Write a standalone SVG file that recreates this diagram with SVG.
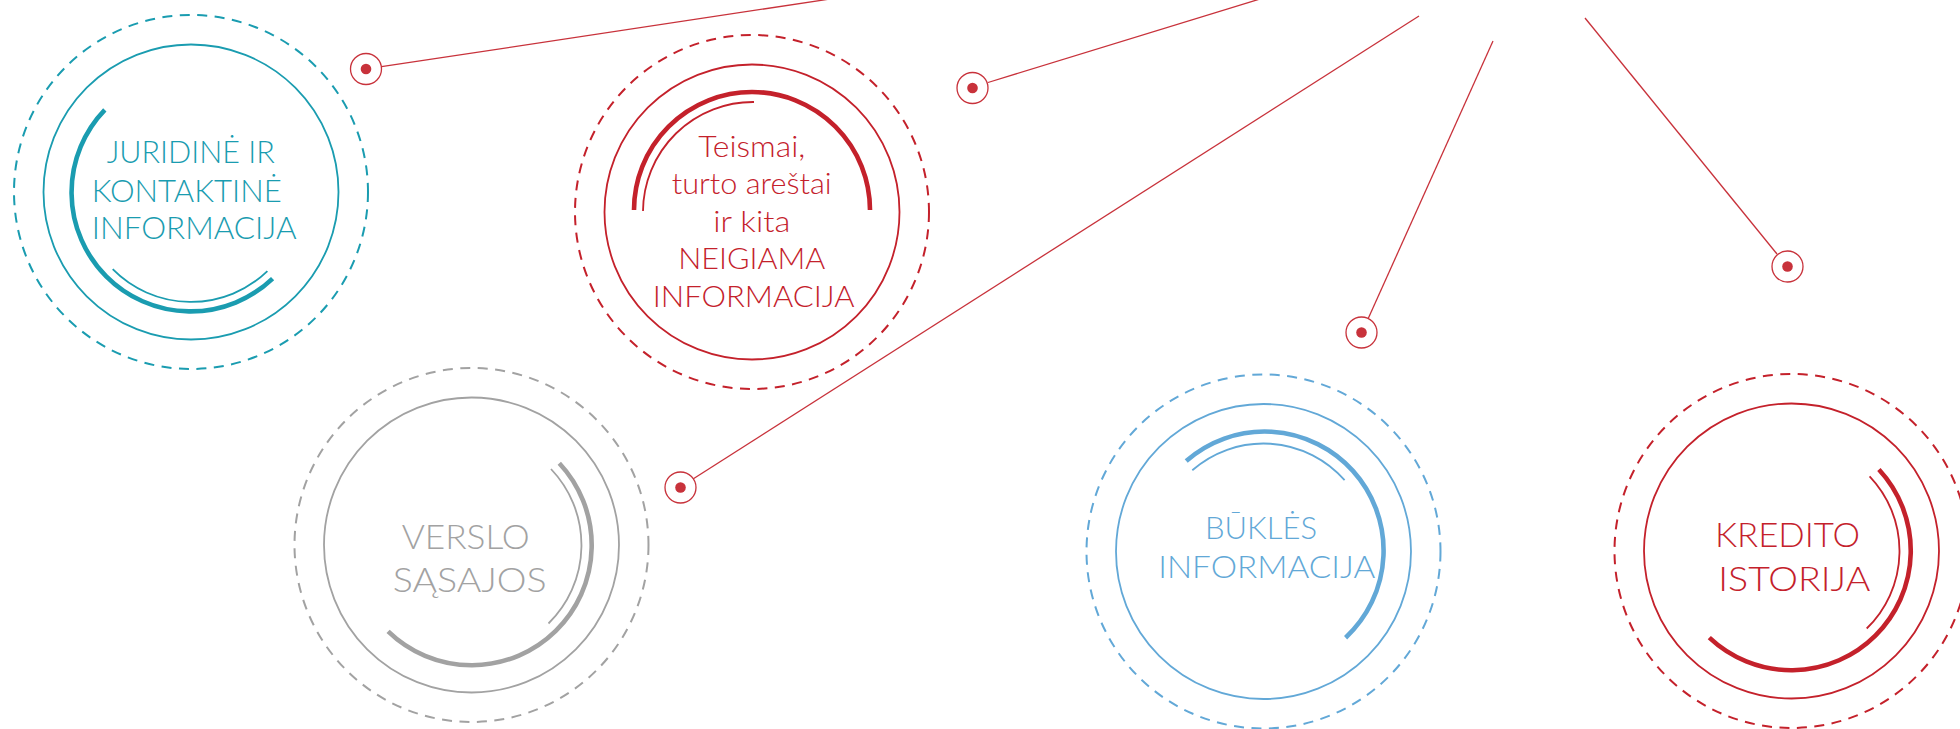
<svg xmlns="http://www.w3.org/2000/svg" xmlns:xlink="http://www.w3.org/1999/xlink" width="1960" height="729" viewBox="0 0 1960 729">
<style>
  .dash{fill:none;stroke-width:2;stroke-dasharray:10 7.5}
  .ring{fill:none;stroke-width:1.8}
  .thick{fill:none;stroke-width:4.6}
  .thin{fill:none;stroke-width:1.8}
  .lbl{font-family:Lato,"Open Sans","Liberation Sans",sans-serif;font-weight:300;font-size:32px}
  .teal{stroke:#1a9cb0}
  .tealt{fill:#1a9cb0}
  .red{stroke:#c4212b}
  .redt{fill:#c4212b}
  .gray{stroke:#a2a2a2}
  .grayt{fill:#a2a2a2}
  .blue{stroke:#62a8d7}
  .bluet{fill:#62a8d7}
  .conn{stroke:#c8323b;stroke-width:1.3;fill:none}
  .mk{fill:#fff;stroke:#c8323b;stroke-width:1.3}
  .dot{fill:#c8323b}
</style>
<defs>
  <g id="pin"><circle class="mk" r="15.5"/><circle class="dot" r="5.3"/></g>
</defs>
<rect width="1960" height="729" fill="#fff"/>

<g id="connectors">
  <line class="conn" x1="381.5" y1="66.7" x2="830" y2="-1"/>
  <line class="conn" x1="988" y1="82.5" x2="1260" y2="-1"/>
  <line class="conn" x1="693" y1="479" x2="1419" y2="16"/>
  <line class="conn" x1="1368" y1="319" x2="1493" y2="41"/>
  <line class="conn" x1="1777" y1="254" x2="1585" y2="18"/>
  <use xlink:href="#pin" x="366" y="69"/>
  <use xlink:href="#pin" x="972.5" y="88"/>
  <use xlink:href="#pin" x="680.5" y="487.5"/>
  <use xlink:href="#pin" x="1361.5" y="332.5"/>
  <use xlink:href="#pin" x="1787.5" y="266.5"/>
</g>

<g id="juridine">
  <circle class="dash teal" cx="191" cy="192" r="177"/>
  <circle class="ring teal" cx="191" cy="192" r="147.5"/>
  <path class="thick teal" d="M104.8,109.9 A119,119 0 0 0 272.6,278.6"/>
  <path class="thin teal" d="M112.7,269.2 A110,110 0 0 0 267.4,271.1"/>
  <text class="lbl tealt" x="106.7" y="163" textLength="168" lengthAdjust="spacingAndGlyphs">JURIDINĖ IR</text>
  <text class="lbl tealt" x="91.7" y="201.5" textLength="190" lengthAdjust="spacingAndGlyphs">KONTAKTINĖ</text>
  <text class="lbl tealt" x="91.7" y="239" textLength="205" lengthAdjust="spacingAndGlyphs">INFORMACIJA</text>
</g>

<g id="teismai">
  <circle class="dash red" cx="752" cy="212" r="177"/>
  <circle class="ring red" cx="752" cy="212" r="147.5"/>
  <path class="thick red" d="M634,210 A118,118 0 0 1 870,210"/>
  <path class="thin red" d="M643,211 A110,110 0 0 1 754,102"/>
  <text class="lbl redt" x="698.3" y="156.7" textLength="107" lengthAdjust="spacingAndGlyphs" style="font-size:29px">Teismai,</text>
  <text class="lbl redt" x="671.7" y="193.5" textLength="160" lengthAdjust="spacingAndGlyphs" style="font-size:29px">turto areštai</text>
  <text class="lbl redt" x="713.3" y="231.5" textLength="77" lengthAdjust="spacingAndGlyphs" style="font-size:29px">ir kita</text>
  <text class="lbl redt" x="678.3" y="269" textLength="147" lengthAdjust="spacingAndGlyphs" style="font-size:29px">NEIGIAMA</text>
  <text class="lbl redt" x="652.7" y="307" textLength="202" lengthAdjust="spacingAndGlyphs" style="font-size:29px">INFORMACIJA</text>
</g>

<g id="verslo">
  <circle class="dash gray" cx="471.5" cy="545" r="177"/>
  <circle class="ring gray" cx="471.5" cy="545" r="147.5"/>
  <path class="thick gray" d="M559.3,463.2 A120,120 0 0 1 388.1,631.3"/>
  <path class="thin gray" d="M551,469 A110,110 0 0 1 548.5,623.5"/>
  <text class="lbl grayt" x="401.7" y="549" textLength="128" lengthAdjust="spacingAndGlyphs" style="font-size:33px">VERSLO</text>
  <text class="lbl grayt" x="392.7" y="592" textLength="154" lengthAdjust="spacingAndGlyphs" style="font-size:33px">SĄSAJOS</text>
</g>

<g id="bukles">
  <circle class="dash blue" cx="1263.5" cy="551.5" r="177"/>
  <circle class="ring blue" cx="1263.5" cy="551.5" r="147.5"/>
  <path class="thick blue" d="M1186.2,461 A119,119 0 0 1 1345.6,637.7"/>
  <path class="thin blue" d="M1192.3,470.3 A108,108 0 0 1 1344.6,480.2"/>
  <text class="lbl bluet" x="1205" y="539" textLength="112" lengthAdjust="spacingAndGlyphs" style="font-size:32px">BŪKLĖS</text>
  <text class="lbl bluet" x="1158.3" y="578" textLength="217" lengthAdjust="spacingAndGlyphs" style="font-size:32px">INFORMACIJA</text>
</g>

<g id="kredito">
  <circle class="dash red" cx="1791.5" cy="551" r="177"/>
  <circle class="ring red" cx="1791.5" cy="551" r="147.5"/>
  <path class="thick red" d="M1878.9,469.5 A119.5,119.5 0 0 1 1709.3,637.7"/>
  <path class="thin red" d="M1869.6,476.4 A108,108 0 0 1 1866.7,628.5"/>
  <text class="lbl redt" x="1715" y="547" textLength="145" lengthAdjust="spacingAndGlyphs" style="font-size:33px">KREDITO</text>
  <text class="lbl redt" x="1718.3" y="591" textLength="152" lengthAdjust="spacingAndGlyphs" style="font-size:33px">ISTORIJA</text>
</g>
</svg>
